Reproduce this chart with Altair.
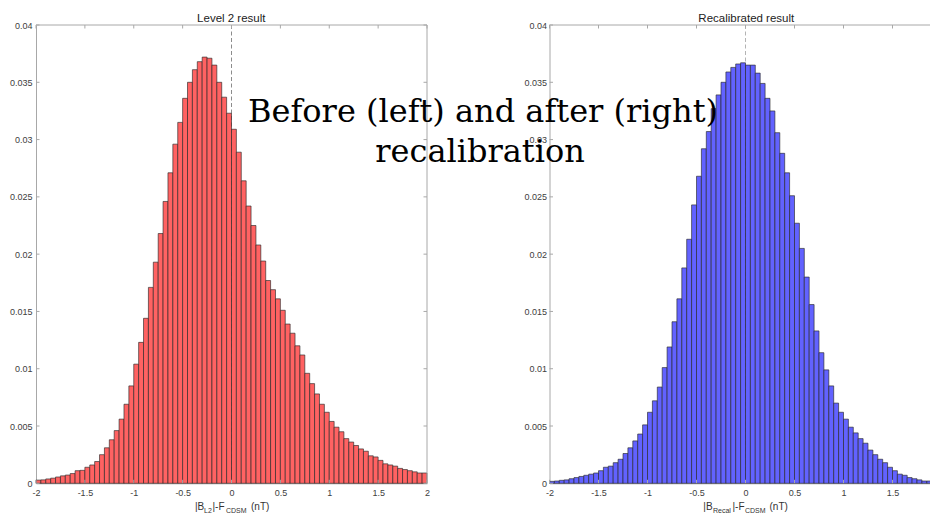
import altair as alt
import pandas as pd

# ---------------- data ----------------
bin_lo = [round(-2 + 0.05 * i, 2) for i in range(80)]
bin_hi = [round(b + 0.05, 2) for b in bin_lo]

level2_vals = [
    0.00028, 0.00030, 0.00038, 0.00045, 0.00055, 0.00065, 0.00072, 0.00085, 0.00110, 0.00113,
    0.00140, 0.00160, 0.00190, 0.00250, 0.00310, 0.00380, 0.00460, 0.00560, 0.00690, 0.00850,
    0.01040, 0.01230, 0.01440, 0.01710, 0.01930, 0.02180, 0.02460, 0.02710, 0.02960, 0.03150,
    0.03360, 0.03500, 0.03610, 0.03680, 0.03720, 0.03710, 0.03650, 0.03500, 0.03370, 0.03230,
    0.03090, 0.02890, 0.02640, 0.02420, 0.02250, 0.02080, 0.01940, 0.01770, 0.01690, 0.01610,
    0.01510, 0.01390, 0.01310, 0.01200, 0.01120, 0.00960, 0.00870, 0.00780, 0.00690, 0.00620,
    0.00540, 0.00490, 0.00450, 0.00390, 0.00360, 0.00330, 0.00300, 0.00280, 0.00240, 0.00230,
    0.00200, 0.00170, 0.00160, 0.00150, 0.00130, 0.00120, 0.00110, 0.00100, 0.00090, 0.00090,
]

recal_vals = [
    0.00017, 0.00020, 0.00026, 0.00030, 0.00040, 0.00050, 0.00060, 0.00070, 0.00080, 0.00090,
    0.00110, 0.00140, 0.00150, 0.00180, 0.00210, 0.00260, 0.00310, 0.00370, 0.00430, 0.00510,
    0.00620, 0.00720, 0.00840, 0.01010, 0.01190, 0.01410, 0.01610, 0.01880, 0.02130, 0.02430,
    0.02680, 0.02920, 0.03070, 0.03270, 0.03390, 0.03500, 0.03590, 0.03630, 0.03660, 0.03670,
    0.03650, 0.03650, 0.03580, 0.03490, 0.03360, 0.03250, 0.03060, 0.02880, 0.02710, 0.02510,
    0.02270, 0.02050, 0.01800, 0.01560, 0.01330, 0.01140, 0.00990, 0.00850, 0.00700, 0.00620,
    0.00560, 0.00490, 0.00440, 0.00390, 0.00350, 0.00290, 0.00250, 0.00210, 0.00180, 0.00140,
    0.00110, 0.00080, 0.00070, 0.00050, 0.00040, 0.00030, 0.00020, 0.00020, 0.00015, 0.00010,
]

x_ticks = [-2, -1.5, -1, -0.5, 0, 0.5, 1, 1.5, 2]
x_labels_left = [-2, -1.5, -1, -0.5, 0, 0.5, 1, 1.5, 2]
x_labels_right = [-2, -1.5, -1, -0.5, 0, 0.5, 1, 1.5]
y_ticks = [0, 0.005, 0.01, 0.015, 0.02, 0.025, 0.03, 0.035, 0.04]

titles = ["Level 2 result", "Recalibrated result"]
left_xtitle = ["|B", "L2", "|-F", "CDSM", "(nT)"]
right_xtitle = ["|B", "Recal", "|-F", "CDSM", "(nT)"]
overlay_lines = ["Before (left) and after (right)", "recalibration"]

# ---------------- layout constants ----------------
PAD_L = 36
W = 894
H = 483.3
TOP = 25
LX = [0, 391]
RX = [513.5, 905.5]
AX_COLOR = "#a8a8a8"
LBL_COLOR = "#404040"
SANS = "Liberation Sans"


def panel(vals, xr, fill, dash_color, y_offset, y_pad, x_labels):
    xs = alt.Scale(domain=[-2, 2], range=xr, nice=False, zero=False)
    ys = alt.Scale(domain=[0, 0.04], range=[H, TOP], nice=False)
    xa = alt.Axis(values=x_labels, labelExpr="toString(datum.value)", orient="bottom",
                  ticks=False, grid=False, title=None, domainColor=AX_COLOR, domainWidth=1,
                  labelColor=LBL_COLOR, labelFont=SANS, labelFontSize=9, labelPadding=5,
                  labelFlush=False, labelOverlap=False)
    ya = alt.Axis(values=y_ticks, labelExpr="toString(datum.value)", orient="left",
                  offset=y_offset, ticks=False, grid=False, title=None, domainColor=AX_COLOR,
                  domainWidth=1, labelColor=LBL_COLOR, labelFont=SANS, labelFontSize=9,
                  labelPadding=y_pad, labelFlush=False, labelOverlap=False)

    df = pd.DataFrame({"lo": bin_lo, "hi": bin_hi, "v": vals, "base": 0.0})
    bars = alt.Chart(df).mark_rect(fill=fill, stroke="#262626", strokeWidth=0.7,
                                   strokeOpacity=0.9).encode(
        x=alt.X("lo:Q", scale=xs, axis=xa), x2="hi:Q",
        y=alt.Y("v:Q", scale=ys, axis=ya), y2="base:Q")

    zdf = pd.DataFrame({"lo": [0.0], "v": [0.04], "base": [0.0]})
    zero = alt.Chart(zdf).mark_rule(color=dash_color, strokeDash=[4, 2.5], strokeWidth=1).encode(
        x=alt.X("lo:Q", scale=xs, axis=xa),
        y=alt.Y("v:Q", scale=ys, axis=ya), y2="base:Q")

    xt = pd.DataFrame({"lo": x_ticks})
    yt = pd.DataFrame({"v": y_ticks})
    tick_style = dict(color=AX_COLOR, strokeWidth=1)
    tb = alt.Chart(xt).mark_rule(**tick_style).encode(
        x=alt.X("lo:Q", scale=xs, axis=xa), y=alt.value(H), y2=alt.value(H - 3.5))
    tt = alt.Chart(xt).mark_rule(**tick_style).encode(
        x=alt.X("lo:Q", scale=xs, axis=xa), y=alt.value(TOP), y2=alt.value(TOP + 3.5))
    tl = alt.Chart(yt).mark_rule(**tick_style).encode(
        y=alt.Y("v:Q", scale=ys, axis=ya), x=alt.value(xr[0]), x2=alt.value(xr[0] + 3.5))
    tr = alt.Chart(yt).mark_rule(**tick_style).encode(
        y=alt.Y("v:Q", scale=ys, axis=ya), x=alt.value(xr[1]), x2=alt.value(xr[1] - 3.5))

    bdf = pd.DataFrame({"lo": [-2.0], "hi": [2.0]})
    top_border = alt.Chart(bdf).mark_rule(color=AX_COLOR, strokeWidth=1).encode(
        x=alt.X("lo:Q", scale=xs, axis=xa), x2="hi:Q", y=alt.value(TOP))
    right_border = alt.Chart(bdf).mark_rule(color=AX_COLOR, strokeWidth=1).encode(
        x=alt.value(xr[1]), y=alt.value(TOP), y2=alt.value(H))

    return alt.layer(zero, bars, tb, tt, tl, tr, top_border, right_border)


left = panel(level2_vals, LX, "#ff6262", "#8c8c8c", 0, 4, x_labels_left)
right = panel(recal_vals, RX, "#6262ff", "#b4b4b4", -RX[0], 3, x_labels_right)


def text_layer(txt, x, y, size, font=SANS, color="#222222", align="left", baseline="alphabetic"):
    return alt.Chart(pd.DataFrame({"t": [txt]})).mark_text(
        font=font, fontSize=size, color=color, align=align, baseline=baseline).encode(
        text="t:N", x=alt.value(x - PAD_L), y=alt.value(y))


texts = [
    text_layer(titles[0], 231.3, 21.7, 11.5, align="center"),
    text_layer(titles[1], 746.3, 21.7, 11.5, align="center"),
]

# x-axis titles with subscripts
MAIN_BASE, SUB_BASE = 509.5, 512.5
left_pos = [195, 204, 212.5, 226, 251]
right_pos = [703.3, 713, 732.5, 745, 769.5]
for parts, pos in ((left_xtitle, left_pos), (right_xtitle, right_pos)):
    for i, (p, xp) in enumerate(zip(parts, pos)):
        sub = i in (1, 3)
        texts.append(text_layer(p, xp, SUB_BASE if sub else MAIN_BASE, 7 if sub else 10,
                                color="#333333"))

overlay = [
    text_layer(overlay_lines[0], 483, 121.5, 32, font="DejaVu Serif", color="#000000",
               align="center"),
    text_layer(overlay_lines[1], 480, 161.5, 32, font="DejaVu Serif", color="#000000",
               align="center"),
]

dot = alt.Chart(pd.DataFrame({"d": [1]})).mark_circle(color="#000000", opacity=1, size=14).encode(
    x=alt.value(539 - PAD_L), y=alt.value(146))

chart = alt.layer(left, right, *texts, *overlay, dot).resolve_scale(
    x="independent", y="independent"
).properties(
    width=W, height=H,
    padding={"left": PAD_L, "top": 0, "right": 0, "bottom": 515 - H},
    autosize=alt.AutoSizeParams(type="none"),
    background="#ffffff",
).configure_view(strokeWidth=0)

chart.save("out.html", embed_options={"renderer": "svg", "actions": False})
